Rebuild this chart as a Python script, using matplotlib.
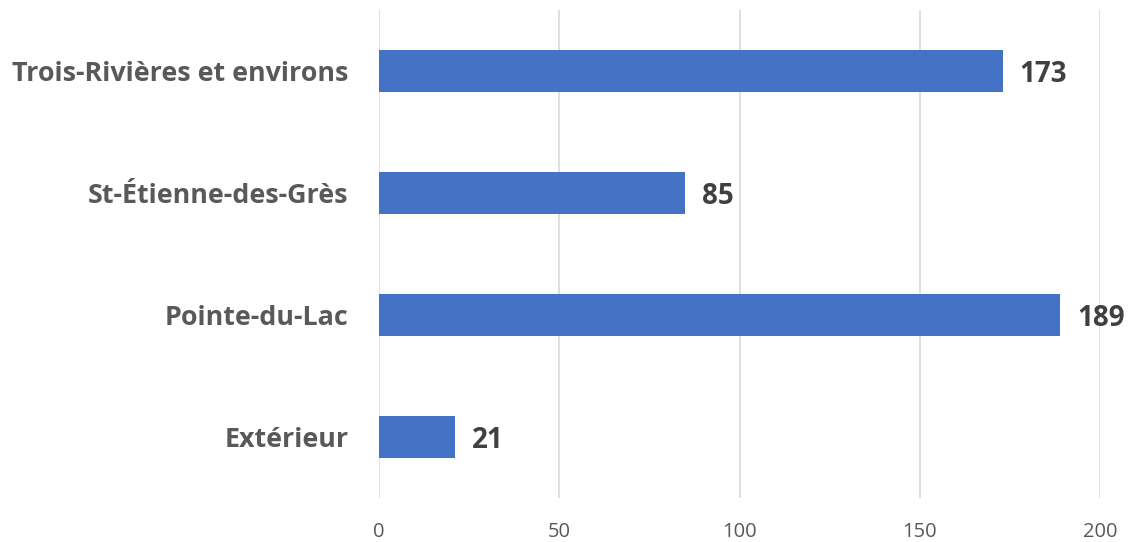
import matplotlib
matplotlib.use("Agg")
import matplotlib.pyplot as plt

categories = ["Trois-Rivières et environs", "St-Étienne-des-Grès", "Pointe-du-Lac", "Extérieur"]
values = [173, 85, 189, 21]
xticks = [0, 50, 100, 150, 200]

plt.rcParams['font.family'] = ['Open Sans', 'DejaVu Sans']

fig = plt.figure(figsize=(11.28, 5.42), dpi=100)
ax = fig.add_axes([379/1128, 1-498/542, (1100-379)/1128, 488/542])

y = list(range(len(categories)))
ax.barh(y, values, height=0.35, color="#4472C4", zorder=3)
ax.set_ylim(len(categories)-0.5, -0.5)
ax.set_xlim(0, 200)
ax.set_xticks(xticks)
ax.set_yticks(y)
ax.set_yticklabels(categories, fontsize=19.4, fontweight='bold', color="#595959")
ax.tick_params(axis='y', length=0, pad=22)
ax.tick_params(axis='x', length=0, labelsize=14.5, labelcolor="#595959", pad=17)
ax.grid(axis='x', color="#D9D9D9", linewidth=1.2, zorder=0)
for s in ax.spines.values():
    s.set_visible(False)

for yi, v in zip(y, values):
    ax.annotate(str(v), xy=(v, yi), xytext=(17, -4), textcoords='offset pixels',
                va='center', ha='left', fontsize=20, fontweight='bold', color="#404040")

fig.savefig("out.png", dpi=100)
